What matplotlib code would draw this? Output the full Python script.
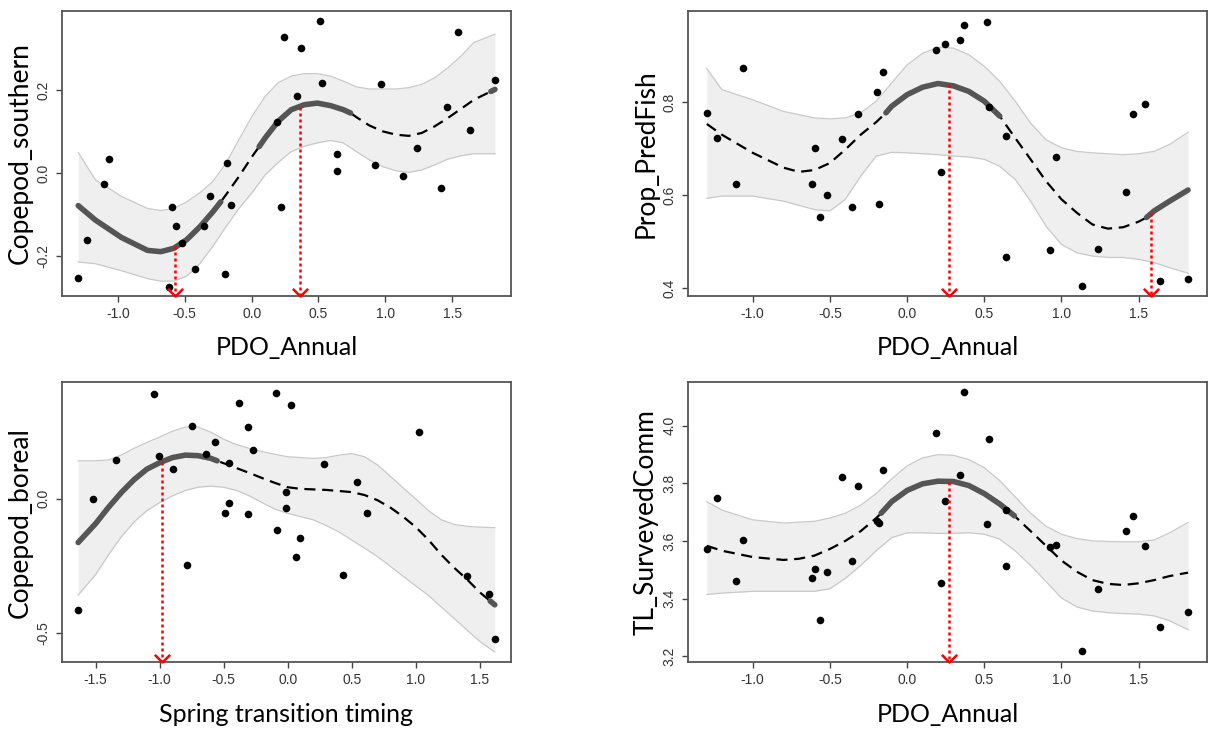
import numpy as np
import matplotlib
matplotlib.use("Agg")
import matplotlib.pyplot as plt
from matplotlib.path import Path

# observed points (shared PDO_Annual values for panels 1, 2, 4)
pdo_annual = [-1.297, -1.234, -1.107, -1.066, -0.617, -0.594, -0.566, -0.520, -0.424, -0.358,
              -0.315, -0.198, -0.183, -0.155, 0.188, 0.218, 0.244, 0.343, 0.371, 0.515,
              0.528, 0.640, 0.640, 0.924, 0.967, 1.132, 1.236, 1.419, 1.462, 1.541,
              1.635, 1.820]
copepod_southern = [-0.252, -0.161, -0.026, 0.034, -0.273, -0.081, -0.127, -0.168, -0.231, -0.126,
                    -0.055, -0.243, 0.024, -0.077, 0.123, -0.081, 0.328, 0.185, 0.302, 0.366,
                    0.217, 0.047, 0.006, 0.019, 0.216, -0.006, 0.060, -0.036, 0.159, 0.341,
                    0.103, 0.224]
prop_predfish = [0.777, 0.723, 0.625, 0.873, 0.624, 0.701, 0.554, 0.601, 0.720, 0.574,
                 0.775, 0.822, 0.582, 0.865, 0.912, 0.649, 0.925, 0.933, 0.966, 0.973,
                 0.790, 0.727, 0.466, 0.482, 0.682, 0.405, 0.485, 0.606, 0.774, 0.797,
                 0.416, 0.420]
tl_surveyedcomm = [3.571, 3.750, 3.460, 3.603, 3.471, 3.502, 3.325, 3.492, 3.823, 3.532,
                   3.791, 3.668, 3.662, 3.845, 3.974, 3.454, 3.737, 3.830, 4.115, 3.660,
                   3.954, 3.707, 3.512, 3.580, 3.585, 3.218, 3.434, 3.635, 3.685, 3.583,
                   3.301, 3.353]
spring_transition = [-1.636, -1.522, -1.340, -1.044, -1.005, -0.896, -0.787, -0.748, -0.636, -0.564,
                     -0.491, -0.455, -0.455, -0.382, -0.309, -0.309, -0.270, -0.088, -0.086, -0.013,
                     -0.013, 0.026, 0.062, 0.099, 0.281, 0.431, 0.540, 0.618, 1.026, 1.397,
                     1.574, 1.616]
copepod_boreal = [-0.415, 0.000, 0.143, 0.386, 0.159, 0.109, -0.245, 0.268, 0.167, 0.211,
                  -0.053, 0.133, -0.017, 0.356, 0.265, -0.057, 0.180, 0.393, -0.115, 0.023,
                  -0.036, 0.346, -0.218, -0.147, 0.129, -0.285, 0.061, -0.052, 0.246, -0.288,
                  -0.354, -0.521]

# fitted smooths
south_fit_x = [-1.297, -1.168, -0.973, -0.778, -0.680, -0.583, -0.485, -0.387, -0.290, -0.231,
               -0.192, -0.095, 0.003, 0.056, 0.101, 0.198, 0.296, 0.393, 0.491, 0.589,
               0.686, 0.740, 0.784, 0.881, 0.979, 1.077, 1.174, 1.272, 1.369, 1.467,
               1.565, 1.662, 1.789, 1.820]
south_fit_y = [-0.078, -0.113, -0.155, -0.186, -0.189, -0.181, -0.160, -0.129, -0.093, -0.069,
               -0.052, -0.008, 0.040, 0.064, 0.085, 0.125, 0.153, 0.165, 0.169, 0.163,
               0.153, 0.145, 0.135, 0.115, 0.101, 0.093, 0.090, 0.097, 0.113, 0.133,
               0.155, 0.177, 0.197, 0.202]
south_band_x = [-1.297, -1.168, -0.973, -0.778, -0.680, -0.583, -0.485, -0.387, -0.290, -0.192,
                -0.095, 0.003, 0.101, 0.198, 0.296, 0.393, 0.491, 0.589, 0.686, 0.784,
                0.881, 0.979, 1.077, 1.174, 1.272, 1.369, 1.467, 1.565, 1.662, 1.820]
south_upper = [0.050, -0.016, -0.056, -0.085, -0.090, -0.085, -0.069, -0.047, -0.020, 0.024,
               0.081, 0.137, 0.185, 0.218, 0.234, 0.240, 0.240, 0.234, 0.222, 0.208,
               0.203, 0.203, 0.203, 0.206, 0.214, 0.230, 0.254, 0.282, 0.315, 0.335]
south_lower = [-0.214, -0.218, -0.235, -0.254, -0.260, -0.260, -0.248, -0.218, -0.176, -0.129,
               -0.085, -0.047, -0.004, 0.026, 0.052, 0.065, 0.073, 0.079, 0.073, 0.052,
               0.032, 0.016, 0.006, 0.002, 0.008, 0.020, 0.034, 0.042, 0.047, 0.047]
south_solid = [(-1.297, -0.231), (0.056, 0.740), (1.789, 1.820)]
south_arrow_x = [-0.57, 0.365]
south_arrow_y = [-0.176, 0.160]

pred_fit_x = [-1.297, -1.2, -1.0, -0.8, -0.7, -0.6, -0.5, -0.4, -0.3, -0.2,
              -0.137, -0.1, 0.0, 0.1, 0.2, 0.3, 0.4, 0.5, 0.6, 0.7,
              0.8, 0.9, 1.0, 1.1, 1.2, 1.3, 1.4, 1.5, 1.551, 1.6,
              1.7, 1.820]
pred_fit_y = [0.753, 0.730, 0.691, 0.659, 0.650, 0.654, 0.669, 0.698, 0.730, 0.757,
              0.777, 0.791, 0.816, 0.832, 0.840, 0.835, 0.823, 0.802, 0.770, 0.723,
              0.677, 0.630, 0.591, 0.562, 0.537, 0.528, 0.531, 0.543, 0.552, 0.566,
              0.587, 0.611]
pred_band_x = [-1.297, -1.2, -1.0, -0.8, -0.6, -0.5, -0.4, -0.3, -0.2, -0.1,
               0.0, 0.1, 0.2, 0.3, 0.4, 0.5, 0.6, 0.7, 0.8, 0.9,
               1.0, 1.1, 1.2, 1.3, 1.4, 1.5, 1.6, 1.7, 1.820]
pred_upper = [0.872, 0.827, 0.805, 0.780, 0.766, 0.764, 0.766, 0.777, 0.802, 0.841,
              0.880, 0.905, 0.918, 0.916, 0.902, 0.877, 0.845, 0.802, 0.755, 0.719,
              0.702, 0.694, 0.691, 0.689, 0.687, 0.689, 0.694, 0.709, 0.735]
pred_lower = [0.593, 0.598, 0.598, 0.587, 0.569, 0.566, 0.591, 0.641, 0.684, 0.692,
              0.691, 0.689, 0.687, 0.684, 0.682, 0.677, 0.662, 0.634, 0.587, 0.533,
              0.494, 0.476, 0.469, 0.466, 0.466, 0.462, 0.455, 0.444, 0.432]
pred_solid = [(-0.137, 0.6), (1.551, 1.820)]
pred_arrow_x = [0.27, 1.58]
pred_arrow_y = [0.839, 0.561]

boreal_fit_x = [-1.636, -1.5, -1.4, -1.3, -1.2, -1.1, -1.0, -0.9, -0.8, -0.7,
                -0.6, -0.551, -0.5, -0.4, -0.3, -0.2, -0.1, 0.0, 0.1, 0.2,
                0.3, 0.4, 0.5, 0.6, 0.7, 0.8, 0.9, 1.0, 1.1, 1.2,
                1.3, 1.4, 1.5, 1.58, 1.616]
boreal_fit_y = [-0.163, -0.093, -0.033, 0.022, 0.070, 0.109, 0.133, 0.152, 0.161, 0.159,
                0.149, 0.140, 0.131, 0.113, 0.095, 0.076, 0.058, 0.042, 0.036, 0.034,
                0.032, 0.028, 0.024, 0.013, -0.006, -0.033, -0.067, -0.106, -0.154, -0.209,
                -0.257, -0.300, -0.348, -0.380, -0.394]
boreal_band_x = [-1.636, -1.5, -1.4, -1.3, -1.2, -1.1, -1.0, -0.9, -0.8, -0.7,
                 -0.6, -0.5, -0.4, -0.3, -0.2, -0.1, 0.0, 0.1, 0.2, 0.3,
                 0.4, 0.5, 0.6, 0.7, 0.8, 0.9, 1.0, 1.1, 1.2, 1.3,
                 1.4, 1.5, 1.616]
boreal_upper = [0.140, 0.140, 0.143, 0.161, 0.186, 0.208, 0.228, 0.250, 0.265, 0.265,
                0.246, 0.220, 0.200, 0.186, 0.174, 0.164, 0.155, 0.152, 0.149, 0.152,
                0.161, 0.167, 0.155, 0.125, 0.083, 0.040, -0.002, -0.045, -0.079, -0.096,
                -0.103, -0.106, -0.108]
boreal_lower = [-0.358, -0.282, -0.209, -0.142, -0.087, -0.045, -0.015, 0.010, 0.030, 0.042,
                0.046, 0.042, 0.030, 0.010, -0.015, -0.039, -0.055, -0.067, -0.079, -0.100,
                -0.124, -0.154, -0.184, -0.215, -0.251, -0.288, -0.324, -0.360, -0.403, -0.445,
                -0.488, -0.530, -0.569]
boreal_solid = [(-1.636, -0.551), (1.58, 1.616)]
boreal_arrow_x = [-0.98]
boreal_arrow_y = [0.136]

tl_fit_x = [-1.297, -1.2, -1.0, -0.8, -0.7, -0.6, -0.5, -0.4, -0.3, -0.2,
            -0.168, -0.1, 0.0, 0.1, 0.2, 0.3, 0.4, 0.5, 0.6, 0.695,
            0.8, 0.9, 1.0, 1.1, 1.2, 1.3, 1.4, 1.5, 1.6, 1.7,
            1.820]
tl_fit_y = [3.583, 3.566, 3.544, 3.534, 3.538, 3.549, 3.572, 3.600, 3.634, 3.679,
            3.696, 3.736, 3.775, 3.798, 3.807, 3.806, 3.792, 3.764, 3.728, 3.687,
            3.634, 3.583, 3.532, 3.493, 3.464, 3.451, 3.447, 3.453, 3.464, 3.478,
            3.490]
tl_band_x = [-1.297, -1.2, -1.0, -0.8, -0.6, -0.5, -0.4, -0.3, -0.2, -0.1,
             0.0, 0.1, 0.2, 0.3, 0.4, 0.5, 0.6, 0.7, 0.8, 0.9,
             1.0, 1.1, 1.2, 1.3, 1.4, 1.5, 1.6, 1.7, 1.820]
tl_upper = [3.736, 3.707, 3.673, 3.662, 3.668, 3.679, 3.696, 3.724, 3.764, 3.815,
            3.860, 3.888, 3.899, 3.897, 3.882, 3.854, 3.809, 3.753, 3.696, 3.651,
            3.623, 3.608, 3.600, 3.598, 3.597, 3.597, 3.603, 3.628, 3.664]
tl_lower = [3.414, 3.419, 3.425, 3.425, 3.425, 3.434, 3.470, 3.515, 3.566, 3.611,
            3.628, 3.628, 3.626, 3.626, 3.628, 3.623, 3.606, 3.566, 3.515, 3.459,
            3.402, 3.371, 3.357, 3.351, 3.348, 3.346, 3.340, 3.323, 3.292]
tl_solid = [(-0.168, 0.695)]
tl_arrow_x = [0.27]
tl_arrow_y = [3.806]

TICK_FONT = "Liberation Sans"
LABEL_FONT = "Lato"
head = Path([(-1, 1), (0, 0), (1, 1)], [Path.MOVETO, Path.LINETO, Path.LINETO])


def draw_panel(ax, px, py, fx, fy, bx, lo, hi, solid, arx, ary,
               xlim, ylim, xticks, yticks, xlabel, ylabel):
    fx, fy = np.array(fx), np.array(fy)
    ax.fill_between(bx, lo, hi, color="#efefef", lw=0, zorder=1)
    ax.plot(bx, lo, color="#c9c9c9", lw=0.9, zorder=1.5)
    ax.plot(bx, hi, color="#c9c9c9", lw=0.9, zorder=1.5)
    ax.plot(fx, fy, color="black", lw=1.6, ls=(0, (5, 3)), zorder=2)
    for a, b in solid:
        m = (fx >= a - 1e-9) & (fx <= b + 1e-9)
        ax.plot(fx[m], fy[m], color="#555555", lw=4.0, solid_capstyle="round", zorder=3)
    ax.scatter(px, py, s=30, color="black", zorder=5, linewidths=0)
    for x, y in zip(arx, ary):
        ax.plot([x, x], [y, ylim[0]], color="red", lw=1.8, ls=(0, (1.2, 1.2)), zorder=6)
        ax.plot([x], [ylim[0]], marker=head, ms=11, mfc="none", mec="red", mew=1.8,
                clip_on=False, zorder=7)
    ax.set_xlim(*xlim)
    ax.set_ylim(*ylim)
    ax.set_xticks(xticks)
    ax.set_xticklabels([f"{t:.1f}" for t in xticks], fontsize=10, family=TICK_FONT, color="#333333")
    ax.set_yticks(yticks)
    ax.set_yticklabels([f"{t:.1f}" for t in yticks], fontsize=10, family=TICK_FONT, color="#333333",
                       rotation=90, va="center")
    ax.tick_params(direction="out", length=4, width=1, color="#444444", pad=4)
    for s in ax.spines.values():
        s.set_color("#555555")
        s.set_linewidth(1.3)
    ax.set_xlabel(xlabel, fontsize=18, family=LABEL_FONT, labelpad=11)
    ax.set_ylabel(ylabel, fontsize=19, family=LABEL_FONT, labelpad=3)


fig = plt.figure(figsize=(12.11, 7.31), dpi=100)
ax1 = fig.add_axes([0.051, 0.595, 0.371, 0.390])
ax2 = fig.add_axes([0.568, 0.595, 0.429, 0.390])
ax3 = fig.add_axes([0.051, 0.094, 0.371, 0.383])
ax4 = fig.add_axes([0.568, 0.094, 0.429, 0.383])

pdo_ticks = [-1.0, -0.5, 0.0, 0.5, 1.0, 1.5]
draw_panel(ax1, pdo_annual, copepod_southern, south_fit_x, south_fit_y, south_band_x,
           south_lower, south_upper, south_solid, south_arrow_x, south_arrow_y,
           (-1.42, 1.94), (-0.296, 0.391), pdo_ticks, [-0.2, 0.0, 0.2],
           "PDO_Annual", "Copepod_southern")
draw_panel(ax2, pdo_annual, prop_predfish, pred_fit_x, pred_fit_y, pred_band_x,
           pred_lower, pred_upper, pred_solid, pred_arrow_x, pred_arrow_y,
           (-1.42, 1.945), (0.383, 0.996), pdo_ticks, [0.4, 0.6, 0.8],
           "PDO_Annual", "Prop_PredFish")
draw_panel(ax3, spring_transition, copepod_boreal, boreal_fit_x, boreal_fit_y, boreal_band_x,
           boreal_lower, boreal_upper, boreal_solid, boreal_arrow_x, boreal_arrow_y,
           (-1.764, 1.743), (-0.607, 0.431), [-1.5, -1.0, -0.5, 0.0, 0.5, 1.0, 1.5], [-0.5, 0.0],
           "Spring transition timing", "Copepod_boreal")
draw_panel(ax4, pdo_annual, tl_surveyedcomm, tl_fit_x, tl_fit_y, tl_band_x,
           tl_lower, tl_upper, tl_solid, tl_arrow_x, tl_arrow_y,
           (-1.42, 1.945), (3.179, 4.150), pdo_ticks, [3.2, 3.4, 3.6, 3.8, 4.0],
           "PDO_Annual", "TL_SurveyedComm")

fig.savefig("out.png", dpi=100)
